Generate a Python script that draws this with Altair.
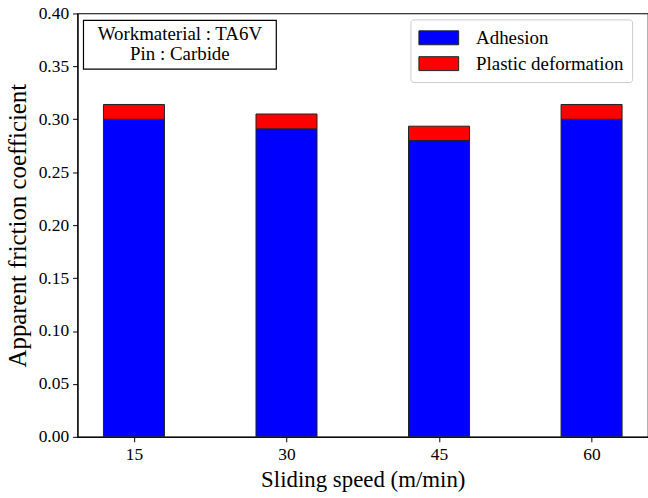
import altair as alt
import pandas as pd

speeds = [15, 30, 45, 60]
adhesion = [0.300, 0.291, 0.280, 0.300]
plastic = [0.014, 0.014, 0.0135, 0.014]
series = ["Adhesion", "Plastic deformation"]
colors = ["#0000ff", "#ff0000"]
note_lines = ["Workmaterial : TA6V", "Pin : Carbide"]
bar_width = 6

rows = []
for s, a, p in zip(speeds, adhesion, plastic):
    rows.append({"speed": s, "series": series[0], "y0": 0.0, "y1": a})
    rows.append({"speed": s, "series": series[1], "y0": a, "y1": a + p})
df = pd.DataFrame(rows)
df["xl"] = df["speed"] - bar_width / 2
df["xr"] = df["speed"] + bar_width / 2

FONT = "Liberation Serif, Times New Roman, serif"

x_scale = alt.Scale(domain=[9.45, 65.55], nice=False, zero=False)
y_scale = alt.Scale(domain=[0, 0.4], nice=False)

bars = alt.Chart(df).mark_bar(stroke="#222222", strokeWidth=1).encode(
    x=alt.X("xl:Q", scale=x_scale,
            axis=alt.Axis(values=speeds, title="Sliding speed (m/min)", format="d",
                          grid=False)),
    x2="xr:Q",
    y=alt.Y("y0:Q", scale=y_scale,
            axis=alt.Axis(values=[i * 0.05 for i in range(9)], format=".2f",
                          title="Apparent friction coefficient", grid=False,
                          titleFontSize=25)),
    y2="y1:Q",
    color=alt.Color("series:N",
                    scale=alt.Scale(domain=series, range=colors),
                    legend=alt.Legend(
                        title=None, orient="none", legendX=335, legendY=6,
                        symbolType="M-1,-0.7L3,-0.7L3,0.7L-1,0.7Z",
                        symbolSize=400, symbolStrokeColor="#222222",
                        symbolStrokeWidth=1, symbolOpacity=1,
                        labelFont=FONT, labelFontSize=19, labelColor="black",
                        labelOffset=37, rowPadding=5,
                        fillColor="white", strokeColor="#cccccc",
                        cornerRadius=3, padding=8)),
)

box = alt.Chart(pd.DataFrame({"a": [0]})).mark_rect(
    fill="white", stroke="black", strokeWidth=1.2
).encode(x=alt.value(6), x2=alt.value(200), y=alt.value(7), y2=alt.value(56))

notes = pd.DataFrame({"line": note_lines, "pos": [21, 41]})
note_text = alt.Chart(notes).mark_text(
    font=FONT, fontSize=19, color="black", align="center", baseline="middle"
).encode(x=alt.value(103), y=alt.Y("pos:Q", scale=None), text="line:N")

chart = alt.layer(bars, box, note_text).properties(
    width=574, height=426,
    padding={"left": 78, "top": 12, "right": 0, "bottom": 60},
    autosize=alt.AutoSizeParams(type="none"),
).configure(font=FONT).configure_view(stroke="black", strokeWidth=1.2).configure_axis(
    domainColor="black", tickColor="black", tickSize=5, labelColor="black",
    labelFont=FONT, labelFontSize=17.5, titleFont=FONT, titleFontSize=23,
    titleFontWeight="normal", titleColor="black", labelPadding=4,
).configure_axisY(titlePadding=8).configure_axisX(titlePadding=5)

chart.save("out.html", embed_options={"renderer": "svg", "actions": False})
